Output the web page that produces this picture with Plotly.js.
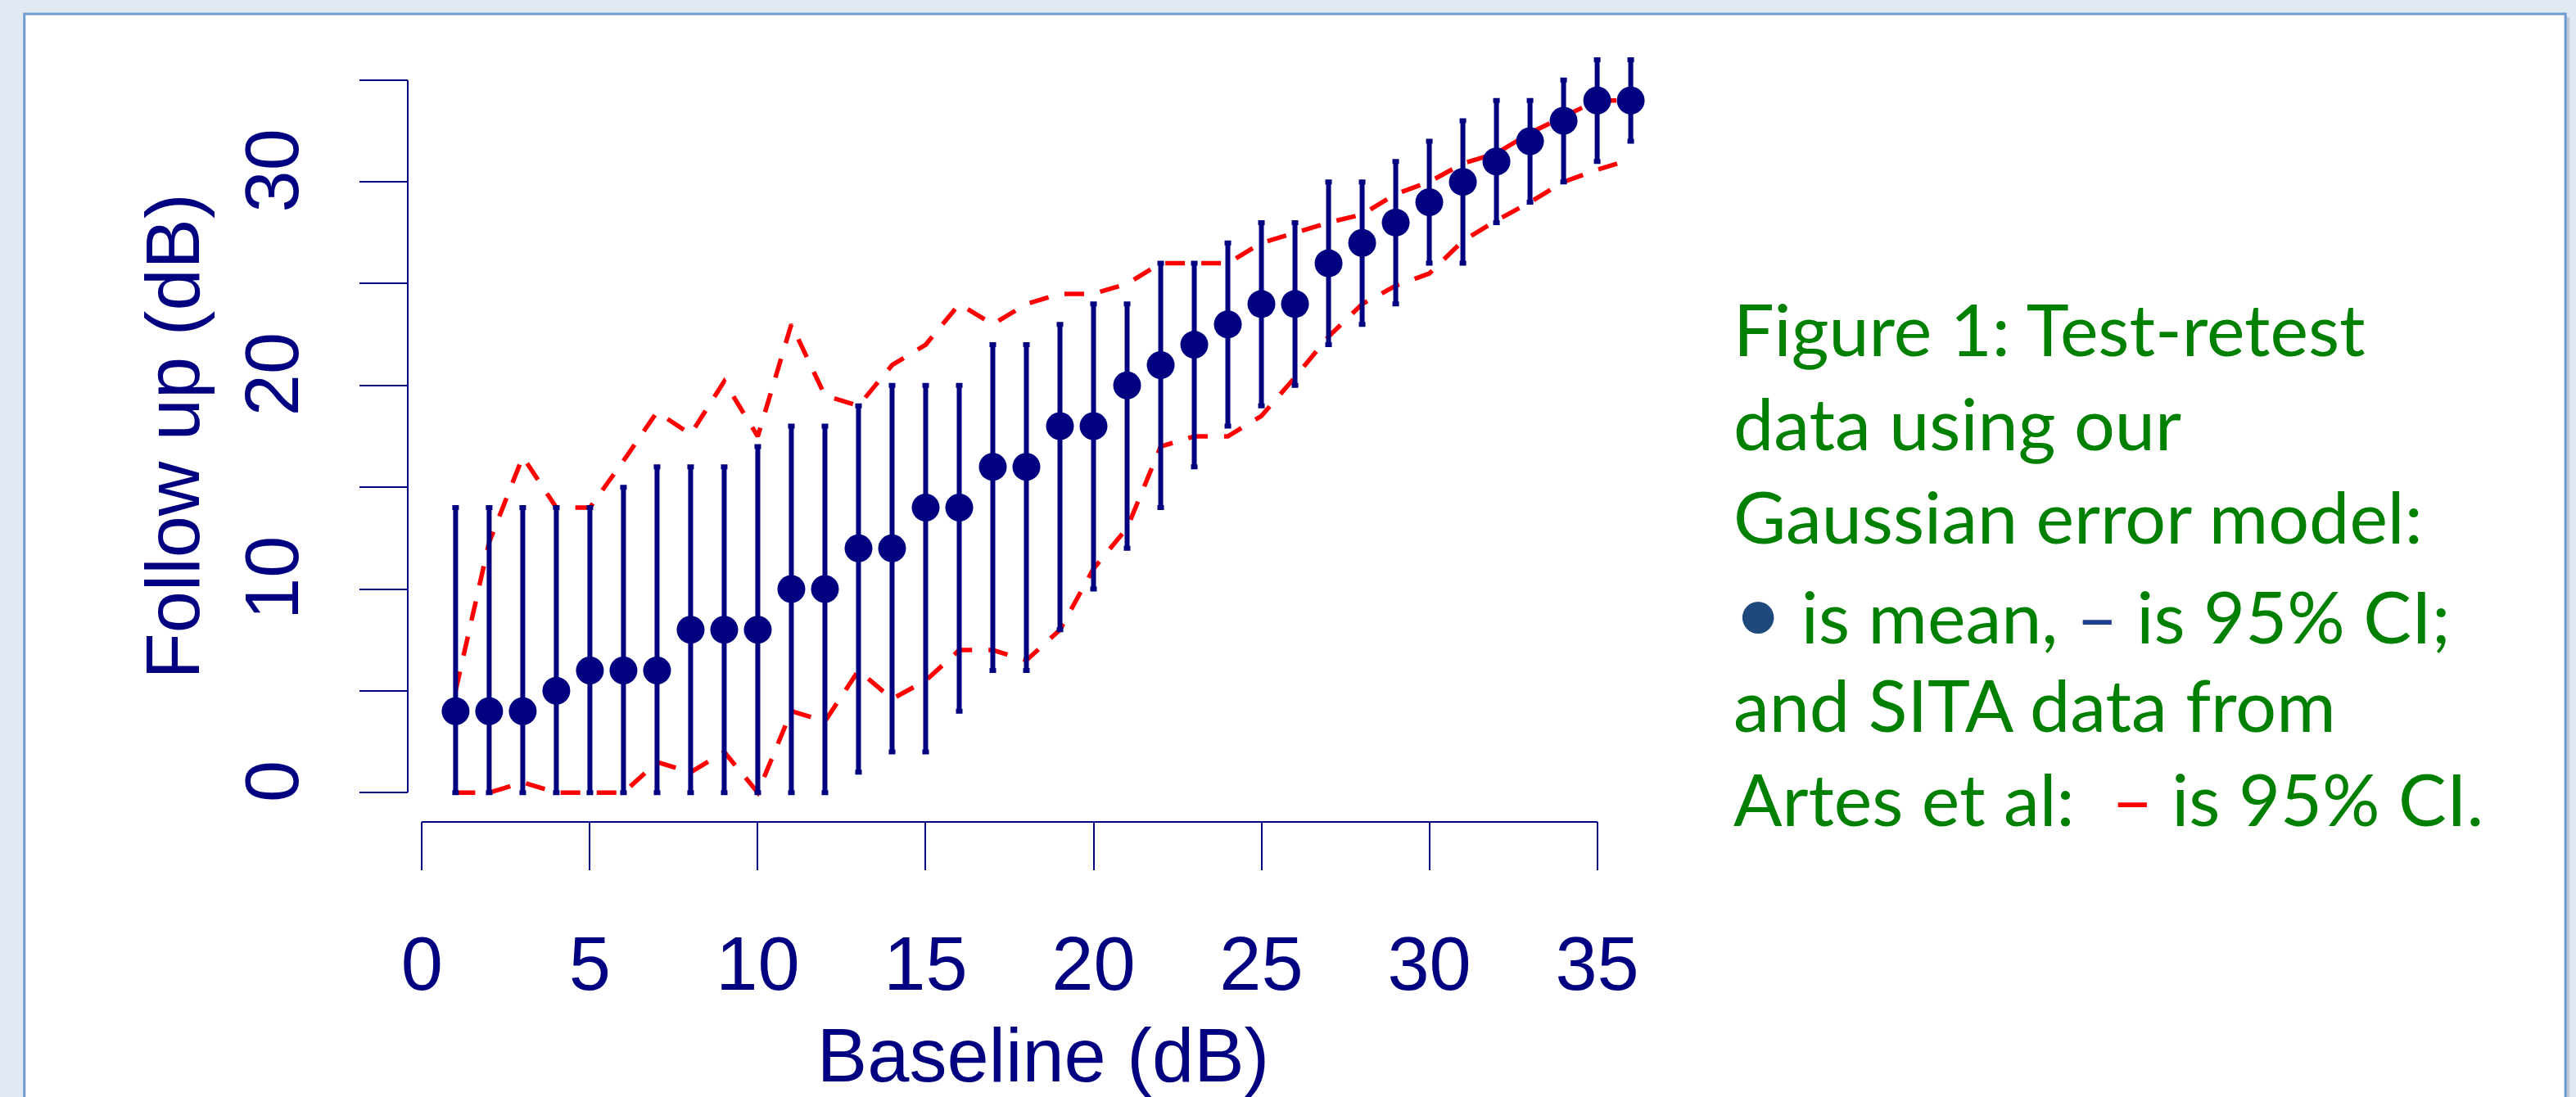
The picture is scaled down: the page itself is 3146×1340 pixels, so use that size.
<!DOCTYPE html>
<html><head><meta charset="utf-8">
<script src="https://cdn.plot.ly/plotly-3.0.1.min.js"></script>
<style>html,body{margin:0;padding:0;background:#e1e9f3;overflow:hidden}</style>
</head><body><div id="chart" style="width:3146px;height:1340px"></div>
<script>
// ---- data ----
const baseline = [1,2,3,4,5,6,7,8,9,10,11,12,13,14,15,16,17,18,19,20,21,22,23,24,25,26,27,28,29,30,31,32,33,34,35,36];
const meanFollowUp = [4,4,4,5,6,6,6,8,8,8,10,10,12,12,14,14,16,16,18,18,20,21,22,23,24,24,26,27,28,29,30,31,32,33,34,34];
const modelUpper = [14,14,14,14,14,15,16,16,16,17,18,18,19,20,20,20,22,22,23,24,24,26,26,27,28,28,30,30,31,32,33,34,34,35,36,36];
const modelLower = [0,0,0,0,0,0,0,0,0,0,0,0,1,2,2,4,6,6,8,10,12,14,16,18,19,20,22,23,24,26,26,28,29,30,31,32];
const sitaUpper = [5,12.3,16.5,14,14,16.3,18.7,17.6,20.2,17.5,23,19.5,19,21,22,24,23,24,24.5,24.5,25,26,26,26,27,27.5,28,28.4,29.4,30,30.9,31.4,32.4,33.2,34,34];
const sitaLower = [0,0,0.5,0,0,0,1.5,1,2,0,4,3.5,6,4.6,5.5,7,7,6.5,8,11,13,17,17.5,17.5,18.5,20.4,22.4,24,24.9,25.5,27.1,28.1,29,30,30.6,31.1];
const xTickVals = [0,5,10,15,20,25,30,35];
const yTickVals = [0,5,10,15,20,25,30,35];
const yTickText = ['0','','10','','20','','30',''];
const xTitle = 'Baseline (dB)';
const yTitle = 'Follow up (dB)';
const captionLines = [
  'Figure 1: Test-retest',
  'data using our',
  'Gaussian error model:',
  '<span style="color:#1f497d;font-size:104px">•</span> is mean, <span style="color:#1f3f8f">–</span> is 95% CI;',
  'and SITA data from',
  'Artes et al:\u00a0 <span style="color:#ff0000">–</span> is 95% CI.'
];

// ---- layout geometry ----
const W = 3146, H = 1340;
const plotL = 499.2, plotR = 2049, plotT = 62.9, plotB = 1002.6;
const xRange = [-0.4, 37.4], yRange = [-1.4, 36.4];
const navy = '#000080';
const axisFont = {family: 'Liberation Sans, Arial, sans-serif', size: 92, color: navy};
const px2paperX = px => (px - plotL) / (plotR - plotL);
const px2paperY = py => (plotB - py) / (plotB - plotT);
const xDom = [(0 - xRange[0]) / (xRange[1] - xRange[0]), (35 - xRange[0]) / (xRange[1] - xRange[0])];
const yDom = [(0 - yRange[0]) / (yRange[1] - yRange[0]), (35 - yRange[0]) / (yRange[1] - yRange[0])];

const errPlus = modelUpper.map((u, i) => u - meanFollowUp[i]);
const errMinus = modelLower.map((l, i) => meanFollowUp[i] - l);

const redLine = {color: '#ff0000', width: 5.5, dash: '24px,20px'};
const traces = [
  {x: baseline, y: sitaUpper, mode: 'lines', line: redLine, hoverinfo: 'skip', showlegend: false},
  {x: baseline, y: sitaLower, mode: 'lines', line: redLine, hoverinfo: 'skip', showlegend: false},
  {x: baseline, y: meanFollowUp, mode: 'markers',
   marker: {size: 34, color: navy, line: {width: 0}},
   error_y: {type: 'data', symmetric: false, array: errPlus, arrayminus: errMinus, color: navy, thickness: 6, width: 4},
   showlegend: false},
  {x: [], y: [], xaxis: 'x2', yaxis: 'y', showlegend: false, hoverinfo: 'skip'},
  {x: [], y: [], xaxis: 'x', yaxis: 'y2', showlegend: false, hoverinfo: 'skip'}
];

const capFont = 88, capX = 2115, capBase0 = 427, capStep = 114.8;
const annotations = captionLines.map((t, i) => ({
  text: t, xref: 'paper', yref: 'paper', showarrow: false,
  x: px2paperX(capX), xanchor: 'left',
  y: px2paperY(capBase0 + i * capStep - 0.3 * capFont), yanchor: 'middle',
  font: {family: 'Lato, sans-serif', size: capFont, color: '#008000'}
}));

const layout = {
  width: W, height: H,
  margin: {l: plotL, r: W - plotR, t: plotT, b: H - plotB, pad: 0},
  paper_bgcolor: '#e1e9f3', plot_bgcolor: 'rgba(0,0,0,0)',
  showlegend: false,
  xaxis: {range: xRange, domain: [0, 1], showline: false, zeroline: false, showgrid: false,
    ticks: 'outside', tickvals: xTickVals, ticklen: 59, tickwidth: 2, tickcolor: navy,
    tickfont: axisFont, ticklabelstandoff: 36,
    title: {text: xTitle, font: axisFont, standoff: 30}, automargin: false},
  yaxis: {range: yRange, domain: [0, 1], showline: false, zeroline: false, showgrid: false,
    ticks: 'outside', tickvals: yTickVals, ticktext: yTickText, tickangle: -90,
    ticklen: 59, tickwidth: 2, tickcolor: navy, tickfont: axisFont, ticklabelstandoff: 38,
    title: {text: yTitle, font: axisFont, standoff: 7}, automargin: false},
  xaxis2: {range: [0, 35], domain: xDom, anchor: 'y', showline: true, linecolor: navy, linewidth: 2,
    showticklabels: false, ticks: '', showgrid: false, zeroline: false},
  yaxis2: {range: [0, 35], domain: yDom, anchor: 'x', showline: true, linecolor: navy, linewidth: 2,
    showticklabels: false, ticks: '', showgrid: false, zeroline: false},
  shapes: [
    {type: 'rect', xref: 'paper', yref: 'paper', layer: 'below',
     x0: px2paperX(34), x1: px2paperX(3138), y0: px2paperY(1400), y1: px2paperY(21),
     fillcolor: 'rgba(90,110,140,0.25)', line: {width: 0}},
    {type: 'rect', xref: 'paper', yref: 'paper', layer: 'below',
     x0: px2paperX(30), x1: px2paperX(3133), y0: px2paperY(1400), y1: px2paperY(17),
     fillcolor: '#ffffff', line: {color: '#6f9bd1', width: 3}}
  ],
  annotations: annotations
};

Plotly.newPlot('chart', traces, layout, {staticPlot: true, displayModeBar: false});
</script>
</body></html>
